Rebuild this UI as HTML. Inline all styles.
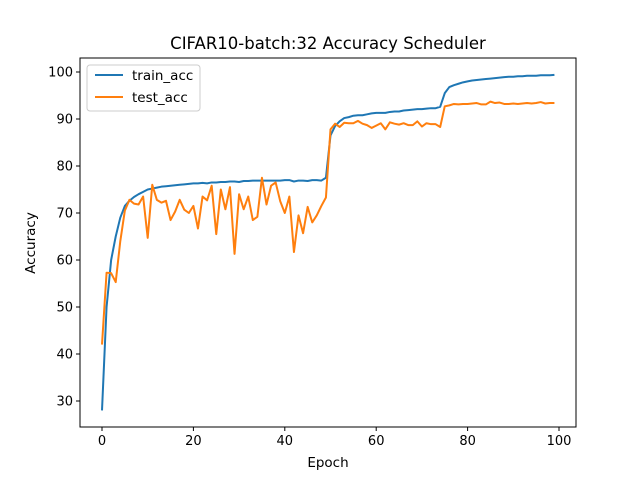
<!DOCTYPE html>
<html><head><meta charset="utf-8"><style>
body{margin:0;background:#fff;}
svg{display:block;font-family:"DejaVu Sans","Liberation Sans",sans-serif;}
</style></head><body>
<svg id="chart" width="640" height="480">
<rect x="0" y="0" width="640" height="480" fill="#fff"/>
<text x="328" y="49" text-anchor="middle" font-size="16.5">CIFAR10-batch:32 Accuracy Scheduler</text>
<text x="328" y="467" text-anchor="middle" font-size="13.5">Epoch</text>
<text x="35" y="243" text-anchor="middle" font-size="13.5" transform="rotate(-90 35 243)">Accuracy</text>
<g id="ticks"></g>
<g id="series"></g>
<rect x="80" y="58" width="496" height="369" fill="none" stroke="#000" stroke-width="1"/>
<g>
<rect x="87" y="65" width="113" height="46" rx="3" fill="#fff" fill-opacity="0.8" stroke="#ccc"/>
<g><line x1="95" y1="75" x2="123" y2="75" stroke="#1f77b4" stroke-width="2"/><text x="132" y="80" font-size="13.5">train_acc</text></g>
<g><line x1="95" y1="97" x2="123" y2="97" stroke="#ff7f0e" stroke-width="2"/><text x="132" y="102" font-size="13.5">test_acc</text></g>
</g>
</svg>
<script>
const trainAcc=[28,50,60,65,69,71.5,72.6,73.4,74,74.5,75,75.2,75.4,75.6,75.7,75.8,75.9,76,76.1,76.2,76.3,76.3,76.4,76.3,76.5,76.5,76.6,76.6,76.7,76.7,76.6,76.8,76.8,76.9,76.9,76.9,76.9,76.9,76.9,76.9,77,77,76.7,76.9,76.9,76.8,77,77,76.9,77.5,86.5,88.5,89.5,90.2,90.4,90.7,90.8,90.8,91,91.2,91.3,91.3,91.3,91.5,91.6,91.6,91.8,91.9,92,92.1,92.1,92.2,92.3,92.3,92.6,95.5,96.8,97.2,97.5,97.8,98,98.2,98.3,98.4,98.5,98.6,98.7,98.8,98.9,99,99,99.1,99.1,99.2,99.2,99.2,99.3,99.3,99.3,99.4];
const testAcc=[42,57.3,57.2,55.3,64,70.5,72.8,72,71.8,73.5,64.7,76,72.8,72.2,72.6,68.5,70.3,72.8,70.7,70,71.5,66.7,73.5,72.7,75.8,65.5,75,70.8,75.5,61.3,74,70.8,73.5,68.5,69.2,77.5,71.8,75.8,76.5,72.5,70,73.5,61.7,69.5,65.7,71.3,68,69.5,71.5,73.3,87.8,89,88.3,89.2,89.1,89.1,89.6,89,88.7,88.1,88.6,89.1,87.8,89.3,89,88.8,89.1,88.7,88.7,89.5,88.4,89.1,88.9,88.9,88.3,92.7,92.9,93.2,93.1,93.2,93.2,93.3,93.4,93.1,93.1,93.7,93.4,93.5,93.2,93.2,93.3,93.2,93.3,93.4,93.3,93.4,93.6,93.3,93.4,93.4];
const xTicks=[0,20,40,60,80,100];
const yTicks=[30,40,50,60,70,80,90,100];
const NS="http://www.w3.org/2000/svg";
const xS=v=>102+v*4.57;
const yS=v=>72+(100-v)*4.7;
const tg=document.getElementById('ticks');
function mk(tag,attrs,parent){const e=document.createElementNS(NS,tag);for(const k in attrs)e.setAttribute(k,attrs[k]);parent.appendChild(e);return e;}
xTicks.forEach(t=>{
  const g=mk('g',{},tg);
  
  
  mk('line',{x1:xS(t),x2:xS(t),y1:427,y2:431,stroke:'#000'},g);
  const tx=mk('text',{x:xS(t),y:445,'text-anchor':'middle','font-size':'13'},g);tx.textContent=t;
});
yTicks.forEach(t=>{
  const g=mk('g',{},tg);
  
  
  mk('line',{x1:76,x2:80,y1:yS(t),y2:yS(t),stroke:'#000'},g);
  const tx=mk('text',{x:73,y:yS(t)+4.5,'text-anchor':'end','font-size':'13'},g);tx.textContent=t;
});
const sg=document.getElementById('series');
function line(data,color,name){
  const p=mk('polyline',{points:data.map((v,i)=>xS(i)+','+yS(v)).join(' '),fill:'none',stroke:color,'stroke-width':'2','stroke-linejoin':'round'},sg);
  
  
}
line(trainAcc,'#1f77b4','train-acc-line');
line(testAcc,'#ff7f0e','test-acc-line');
</script>
</body></html>
